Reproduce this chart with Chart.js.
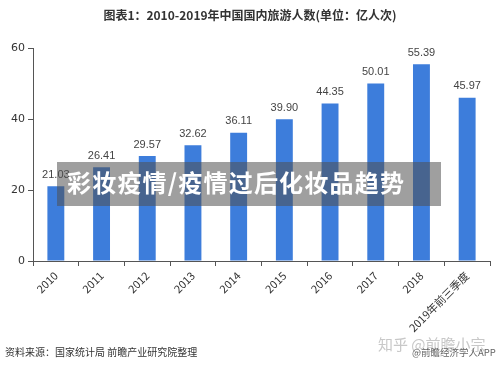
<!DOCTYPE html>
<html>
<head>
<meta charset="utf-8">
<script src="https://cdn.jsdelivr.net/npm/chart.js@4"></script>
<style>
  html, body { margin: 0; padding: 0; background: #fff; }
  #wrap { position: relative; width: 500px; height: 368px; overflow: hidden; font-family: "Noto Sans CJK SC", "Noto Sans", sans-serif; }
  #chart { position: absolute; left: 0; top: 0; }
  .title { position: absolute; left: 0; width: 500px; top: 6px; text-align: center; font-size: 12px; font-weight: bold; color: #333; }
  .banner { position: absolute; left: 57px; top: 162px; width: 384px; height: 44px; background: rgba(80, 80, 80, 0.55); }
  .banner span { position: absolute; left: 10px; top: 2px; font-size: 24px; font-weight: bold; color: #fff; letter-spacing: 1.2px; white-space: nowrap; }
  .source { position: absolute; left: 5px; top: 344px; font-size: 10px; color: #333; white-space: nowrap; }
  .zhihu { position: absolute; left: 378px; top: 333px; font-size: 15px; color: #c8c8c8; white-space: nowrap; }
  .app { position: absolute; left: 412px; top: 345px; font-size: 9.5px; color: #666; white-space: nowrap; }
</style>
</head>
<body>
<div id="wrap">
  <canvas id="chart" width="500" height="368"></canvas>
  <div class="title">图表1：2010-2019年中国国内旅游人数(单位：亿人次)</div>
  <div class="banner"><span>彩妆疫情/疫情过后化妆品趋势</span></div>
  <div class="source">资料来源：国家统计局 前瞻产业研究院整理</div>
  <div class="zhihu">知乎 @前瞻小宗</div>
  <div class="app">@前瞻经济学人APP</div>
</div>
<script>
// Categories and values
const years = ['2010', '2011', '2012', '2013', '2014', '2015', '2016', '2017', '2018', '2019年前三季度'];
const visitors = [21.03, 26.41, 29.57, 32.62, 36.11, 39.90, 44.35, 50.01, 55.39, 45.97];
const yTicks = [0, 20, 40, 60];

// Value labels above each bar
const barLabels = {
    id: 'barLabels',
    afterDatasetsDraw(chart) {
        const ctx = chart.ctx;
        const meta = chart.getDatasetMeta(0);
        ctx.save();
        ctx.font = '11px "Liberation Sans", sans-serif';
        ctx.fillStyle = '#444';
        ctx.textAlign = 'center';
        ctx.textBaseline = 'bottom';
        meta.data.forEach((bar, i) => {
            ctx.fillText(visitors[i].toFixed(2), bar.x, bar.y - 6);
        });
        ctx.restore();
    }
};

const ctx = document.getElementById('chart').getContext('2d');

new Chart(ctx, {
    type: 'bar',
    data: {
        labels: years,
        datasets: [{
            data: visitors,
            backgroundColor: '#3d7ddb',
            categoryPercentage: 1,
            barPercentage: 0.37,
        }],
    },
    options: {
        responsive: false,
        animation: false,
        layout: { padding: { left: 0, right: 10, top: 48, bottom: 0 } },
        plugins: {
            legend: { display: false },
            tooltip: { enabled: false },
        },
        scales: {
            x: {
                offset: true,
                grid: { drawOnChartArea: false, offset: true, tickLength: 5, color: '#555' },
                border: { color: '#555' },
                ticks: {
                    minRotation: 45,
                    maxRotation: 45,
                    autoSkip: false,
                    color: '#333',
                    font: { size: 11, family: '"Noto Sans CJK SC", sans-serif' },
                },
                afterFit(scale) { scale.height = 107; },
            },
            y: {
                min: 0,
                max: 60,
                afterBuildTicks(scale) { scale.ticks = yTicks.map(v => ({ value: v })); },
                grid: { drawOnChartArea: false, tickLength: 5, color: '#555' },
                border: { color: '#555' },
                ticks: { color: '#333', font: { size: 11, family: '"DejaVu Sans", sans-serif' }, padding: 3 },
                afterFit(scale) { scale.width = 33; },
            },
        },
    },
    plugins: [barLabels],
});
</script>
</body>
</html>
